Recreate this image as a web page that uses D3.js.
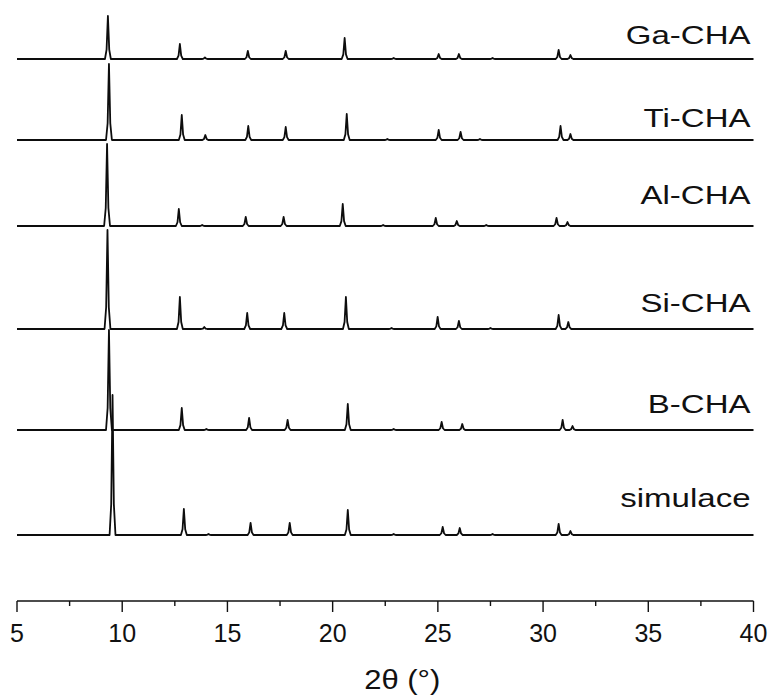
<!DOCTYPE html>
<html>
<head>
<meta charset="utf-8">
<script src="https://cdn.jsdelivr.net/npm/d3@7"></script>
<style>
	body { margin: 0; background: #fff; }
	#graphicContainer { width: 769px; height: 697px; }
	text { font-family: "Liberation Sans", Arial, sans-serif; fill: #111; }
</style>
</head>
<body>
<div id="graphicContainer"></div>
<script>

// series names, bottom to top
var seriesNames = ["simulace", "B-CHA", "Si-CHA", "Al-CHA", "Ti-CHA", "Ga-CHA"]

// peaks: [2theta, intensity (a.u.)]
var simulace = [[9.54, 140], [12.93, 26], [14.1, 1], [16.1, 12], [17.96, 12], [20.72, 25], [22.9, 1], [25.23, 8], [26.04, 7], [27.6, 1], [30.74, 11], [31.3, 4]]
var bCHA = [[9.37, 100], [12.83, 22], [14.0, 1], [16.03, 12], [17.86, 10], [20.72, 26], [22.9, 1], [25.18, 8], [26.16, 6], [30.93, 10], [31.4, 4]]
var siCHA = [[9.3, 99], [12.74, 32], [13.9, 2], [15.94, 16], [17.7, 16], [20.63, 32], [22.8, 1], [24.99, 12], [26.0, 8], [27.5, 1], [30.74, 14], [31.2, 7]]
var alCHA = [[9.28, 82], [12.69, 17], [13.8, 1], [15.87, 9], [17.67, 9], [20.48, 22], [22.4, 1], [24.9, 8], [25.9, 5], [27.3, 1], [30.64, 8], [31.16, 4]]
var tiCHA = [[9.37, 76], [12.83, 25], [13.95, 5], [15.99, 14], [17.77, 13], [20.67, 26], [22.6, 1], [25.04, 10], [26.08, 8], [27.0, 1], [30.83, 14], [31.3, 6]]
var gaCHA = [[9.32, 43], [12.74, 15], [13.93, 1.5], [15.97, 8], [17.77, 8], [20.57, 21], [22.9, 1], [25.04, 5], [26.0, 5], [27.6, 1], [30.74, 9], [31.3, 4]]

var xTicks = [5, 10, 15, 20, 25, 30, 35, 40]
var xMinorTicks = [7.5, 12.5, 17.5, 22.5, 27.5, 32.5, 37.5]
var xTitle = "2\u03b8 (\u00b0)"

function init() {

	var container = d3.select("#graphicContainer")
	container.select("svg").remove()

	var width = 769
	var height = 697
	var margin = {top: 0, right: 15, bottom: 96, left: 17}

	var svg = container.append("svg")
				.attr("width", width)
				.attr("height", height)

	var features = svg.append("g").attr("transform", "translate(" + margin.left + "," + margin.top + ")")

	var plotW = width - margin.left - margin.right
	var plotH = height - margin.top - margin.bottom

	var x = d3.scaleLinear()
		.domain([5, 40])
		.range([0, plotW - 0.5])

	var y = d3.scaleLinear()
		.domain([-66, 535])
		.range([plotH, 0])

	// vertical stacking of the traces (a.u.) and label placement
	var offsets = [0, 105, 206, 309, 395, 476]
	var labelDy = [28, 17, 17, 22, 13, 15]
	var allSeries = [simulace, bCHA, siCHA, alCHA, tiCHA, gaCHA]

	var w = 0.14

	function tracePoints(peaks) {
		var pts = [[5, 0]]
		peaks.forEach(function(p) {
			var pos = p[0], h = p[1]
			pts.push([pos - w, 0])
			pts.push([pos - w * 0.45, h * 0.22])
			pts.push([pos, h])
			pts.push([pos + w * 0.45, h * 0.22])
			pts.push([pos + w, 0])
		})
		pts.push([40, 0])
		return pts.sort(function(a, b) { return a[0] - b[0] })
	}

	allSeries.forEach(function(peaks, i) {
		var off = offsets[i]
		var line = d3.line()
			.x(function(d) { return x(d[0]) })
			.y(function(d) { return y(d[1] + off) })

		features.append("path")
			.datum(tracePoints(peaks))
			.attr("fill", "none")
			.attr("stroke", "#0d0d0d")
			.attr("stroke-width", 1.8)
			.attr("stroke-linejoin", "round")
			.attr("d", line)

		features.append("text")
			.attr("text-anchor", "end")
			.attr("transform", "translate(" + (x(40) - 3) + "," + (y(off) - labelDy[i]) + ") scale(1.27,1)")
			.attr("font-size", 26)
			.text(seriesNames[i])
	})

	// x axis
	var axis = features.append("g")
		.attr("transform", "translate(0," + plotH + ")")

	axis.append("line")
		.attr("x1", x(5)).attr("x2", x(40))
		.attr("stroke", "#111")
		.attr("stroke-width", 1.6)

	axis.selectAll(".major")
		.data(xTicks)
		.enter()
		.append("line")
		.attr("x1", d => x(d)).attr("x2", d => x(d))
		.attr("y1", 0).attr("y2", 11)
		.attr("stroke", "#111")
		.attr("stroke-width", 1.4)

	axis.selectAll(".minor")
		.data(xMinorTicks)
		.enter()
		.append("line")
		.attr("x1", d => x(d)).attr("x2", d => x(d))
		.attr("y1", 0).attr("y2", 5)
		.attr("stroke", "#111")
		.attr("stroke-width", 1.4)

	axis.selectAll(".tickLabel")
		.data(xTicks)
		.enter()
		.append("text")
		.attr("x", d => x(d))
		.attr("y", 41)
		.attr("text-anchor", "middle")
		.attr("font-size", 25)
		.text(d => d)

	axis.append("text")
		.attr("text-anchor", "middle")
		.attr("transform", "translate(" + (x(40) / 2 + 17) + ",88) scale(1.15,1)")
		.attr("font-size", 27)
		.text(xTitle)

}

init()

</script>
</body>
</html>
